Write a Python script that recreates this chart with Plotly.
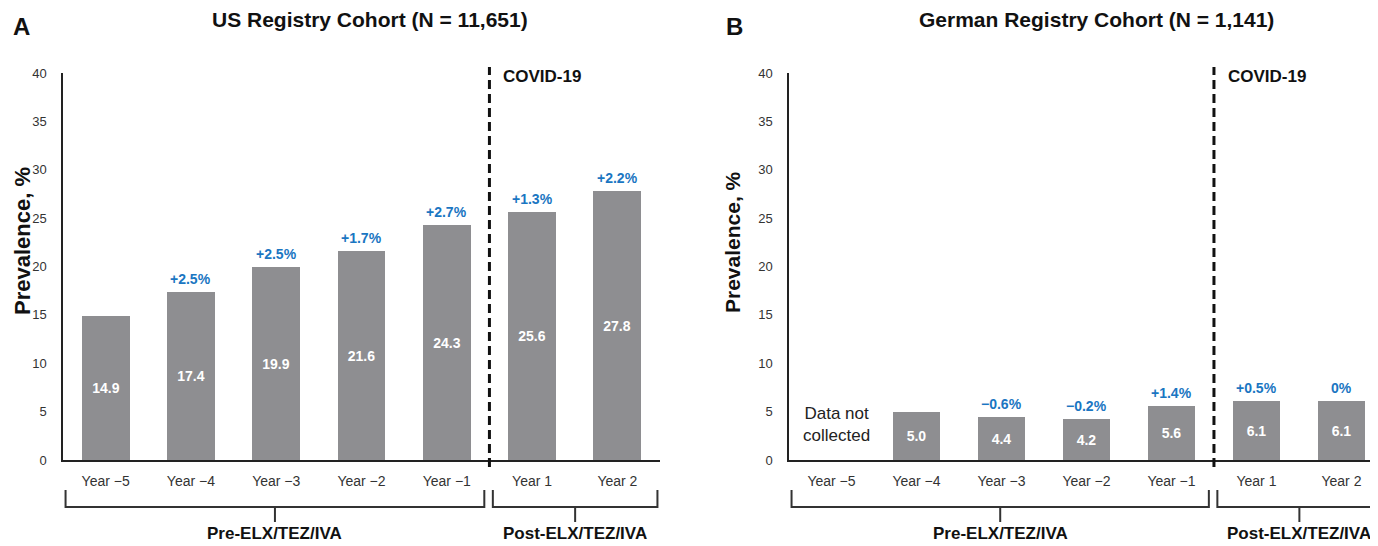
import plotly.graph_objects as go

categories = ["Year \u22125", "Year \u22124", "Year \u22123", "Year \u22122", "Year \u22121", "Year 1", "Year 2"]
us_values = [14.9, 17.4, 19.9, 21.6, 24.3, 25.6, 27.8]
us_changes = [None, "+2.5%", "+2.5%", "+1.7%", "+2.7%", "+1.3%", "+2.2%"]
de_values = [None, 5.0, 4.4, 4.2, 5.6, 6.1, 6.1]
de_changes = [None, None, "\u22120.6%", "\u22120.2%", "+1.4%", "+0.5%", "0%"]
y_ticks = [0, 5, 10, 15, 20, 25, 30, 35, 40]

FONT = "Liberation Sans, Arial, sans-serif"
BAR = "#8e8e91"
BLUE = "#1a76c2"
TXT = "#333333"

# page body has an 8px margin: work in reference pixels and shift
OFF = 8
W, H = 1378 - OFF, 546 - OFF
PH = 387.0


def px(ref):
    return (ref - OFF) / W


def py(ref):
    return (460 - ref) / PH


xpos = list(range(len(categories)))

fig = go.Figure()
for vals, xa, ya in [(us_values, "x", "y"), (de_values, "x2", "y2")]:
    fig.add_trace(go.Bar(
        x=xpos, y=vals, xaxis=xa, yaxis=ya, width=0.56,
        marker=dict(color=BAR, line=dict(width=0)),
        text=[("" if v is None else f"{v:.1f}") for v in vals],
        textposition="inside", insidetextanchor="middle",
        textfont=dict(family=FONT, size=14, color="white", weight="bold"),
        constraintext="none", showlegend=False, hoverinfo="skip",
    ))

annotations = []
for vals, chg, xa, ya in [(us_values, us_changes, "x", "y"), (de_values, de_changes, "x2", "y2")]:
    for i, (v, c) in enumerate(zip(vals, chg)):
        if c is None or v is None:
            continue
        annotations.append(dict(x=i, y=v, xref=xa, yref=ya, text=f"<b>{c}</b>", showarrow=False,
                                yanchor="bottom", yshift=3,
                                font=dict(family=FONT, size=14, color=BLUE)))

for xa, ya in [("x", "y"), ("x2", "y2")]:
    annotations.append(dict(x=4.64, y=39.6, xref=xa, yref=ya, text="<b>COVID-19</b>", showarrow=False,
                            xanchor="left", yanchor="middle",
                            font=dict(family=FONT, size=17, color="#111111")))

annotations.append(dict(x=0.06, y=3.7, xref="x2", yref="y2", text="Data not<br>collected", showarrow=False,
                        font=dict(family=FONT, size=17, color="#222222")))


def paper_ann(x, y, text, size, xanchor="center", yanchor="middle", angle=0):
    annotations.append(dict(x=px(x), y=py(y), xref="paper", yref="paper", text=text, showarrow=False,
                            xanchor=xanchor, yanchor=yanchor, textangle=angle,
                            font=dict(family=FONT, size=size, color="#111111")))


paper_ann(11, 26, "<b>A</b>", 24, xanchor="left")
paper_ann(370, 6, "<b>US Registry Cohort (N = 11,651)</b>", 21, yanchor="top")
paper_ann(724, 26, "<b>B</b>", 24, xanchor="left")
paper_ann(1096, 6, "<b>German Registry Cohort (N = 1,141)</b>", 21, yanchor="top")
paper_ann(22, 241, "<b>Prevalence, %</b>", 22, angle=-90)
paper_ann(733, 242, "<b>Prevalence, %</b>", 21, angle=-90)

shapes = []
for xa in ["x", "x2"]:
    shapes.append(dict(type="line", xref=xa, yref="paper", x0=4.5, x1=4.5, y0=py(467), y1=py(67),
                       line=dict(color="#111111", width=3, dash="9px,5px")))
    for (a, b) in [(-0.47, 4.44), (4.54, 6.47)]:
        yh, yt, ys = py(507), py(490), py(522)
        mid = (a + b) / 2
        shapes.append(dict(type="path", xref=xa, yref="paper",
                           path=f"M {a},{yt} L {a},{yh} L {b},{yh} L {b},{yt}",
                           line=dict(color="#333333", width=2)))
        shapes.append(dict(type="line", xref=xa, yref="paper", x0=mid, x1=mid, y0=yh, y1=ys,
                           line=dict(color="#333333", width=2)))

for (a, b, lab) in [(-0.47, 4.44, "Pre-ELX/TEZ/IVA"), (4.54, 6.47, "Post-ELX/TEZ/IVA")]:
    for xa in ["x", "x2"]:
        annotations.append(dict(x=(a + b) / 2, y=py(545), xref=xa, yref="paper", text=f"<b>{lab}</b>",
                                showarrow=False, yanchor="bottom",
                                font=dict(family=FONT, size=17, color="#111111")))

xcommon = dict(tickmode="array", tickvals=xpos, ticktext=categories, showline=True, linecolor="#222222",
               linewidth=2, ticks="", showgrid=False, zeroline=False, ticklabelstandoff=7,
               tickfont=dict(family=FONT, size=14, color=TXT))
ycommon = dict(range=[0, 40], tickmode="array", tickvals=y_ticks, showline=True, linecolor="#222222",
               linewidth=1.5, ticks="", showgrid=False, zeroline=False, ticklabelstandoff=12,
               tickfont=dict(family=FONT, size=13, color=TXT))

fig.update_layout(
    width=W, height=H,
    margin=dict(l=0, r=0, t=73 - OFF, b=546 - 460),
    plot_bgcolor="white", paper_bgcolor="white",
    xaxis=dict(domain=[px(63), px(660)], range=[-0.5, 6.5], anchor="y", **xcommon),
    yaxis=dict(domain=[0, 1], anchor="x", **ycommon),
    xaxis2=dict(domain=[px(789), 1.0], range=[-0.5, 6.43], anchor="y2", **xcommon),
    yaxis2=dict(domain=[0, 1], anchor="x2", **ycommon),
    annotations=annotations, shapes=shapes, bargap=0,
)

fig.write_html("out.html")
